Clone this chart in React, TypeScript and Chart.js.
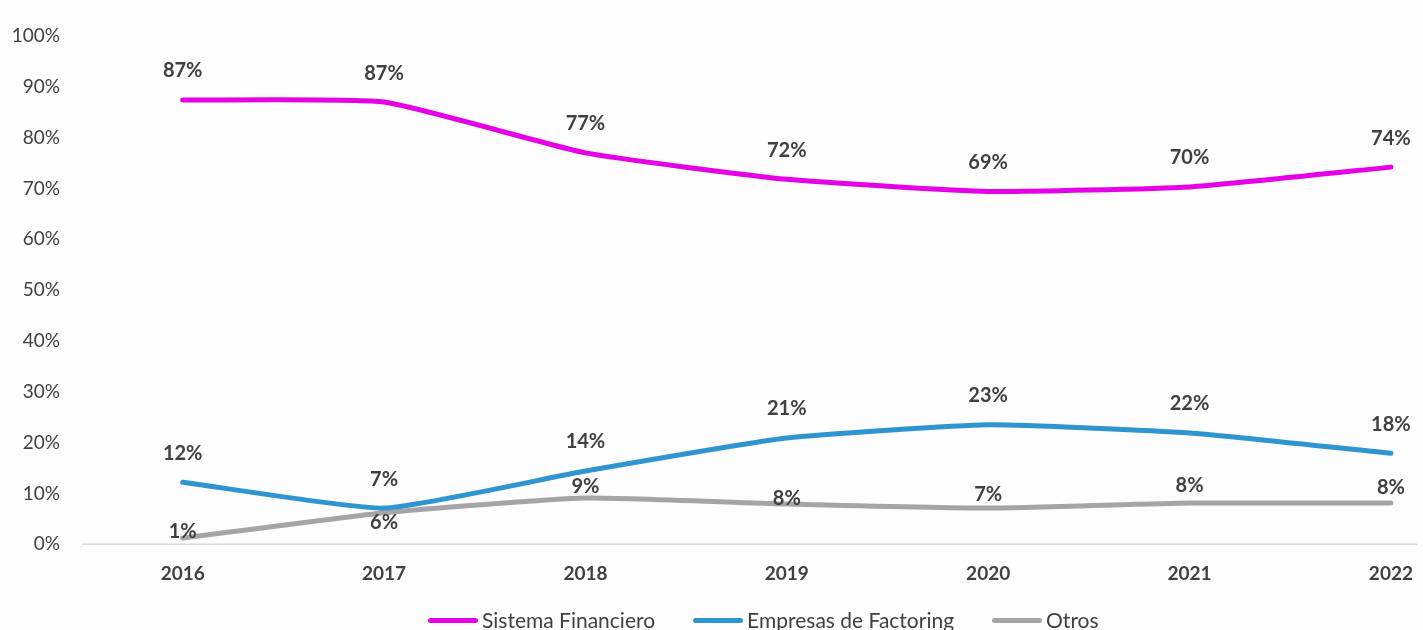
import React, { useEffect, useRef } from "react";
import { Chart, registerables } from "chart.js";

Chart.register(...registerables);

const years = [2016, 2017, 2018, 2019, 2020, 2021, 2022];
const seriesNames = ["Sistema Financiero", "Empresas de Factoring", "Otros"];
const sistemaFinanciero = [87.4, 87.0, 77.0, 71.8, 69.4, 70.3, 74.2];
const empresasFactoring = [12.2, 7.1, 14.4, 20.9, 23.5, 21.9, 17.9];
const otros = [1.2, 6.2, 9.1, 7.9, 7.1, 8.1, 8.1];
const sistemaLabels = ["87%", "87%", "77%", "72%", "69%", "70%", "74%"];
const factoringLabels = ["12%", "7%", "14%", "21%", "23%", "22%", "18%"];
const otrosLabels = ["1%", "6%", "9%", "8%", "7%", "8%", "8%"];
const yTicks = [0, 10, 20, 30, 40, 50, 60, 70, 80, 90, 100];

const seriesColors = ["#e600e6", "#2e95d1", "#a5a5a5"];
// label vertical offsets (px, style only)
const otrosLabelDy = [-7, 10, -11, -6, -14, -17, -15];

const FONT = "Lato, 'Open Sans', sans-serif";
const TEXT = "#404040";

const labelPlugin = {
  id: "valueLabels",
  afterDatasetsDraw(chart: any) {
    const ctx = chart.ctx;
    ctx.save();
    ctx.font = `bold 20px ${FONT}`;
    ctx.fillStyle = TEXT;
    ctx.textAlign = "center";
    ctx.textBaseline = "middle";
    chart.data.datasets.forEach((ds: any, di: number) => {
      const meta = chart.getDatasetMeta(di);
      meta.data.forEach((pt: any, i: number) => {
        const dy = ds.labelDy ? ds.labelDy[i] : -29;
        ctx.fillText(ds.valueLabels[i], pt.x, pt.y + dy);
      });
    });
    ctx.restore();
  },
};

const baselinePlugin = {
  id: "baseline",
  beforeDatasetsDraw(chart: any) {
    const { ctx, chartArea, scales } = chart;
    const y = scales.y.getPixelForValue(0);
    ctx.save();
    ctx.strokeStyle = "#d9d9d9";
    ctx.lineWidth = 1.5;
    ctx.beginPath();
    ctx.moveTo(chartArea.left, y);
    ctx.lineTo(chartArea.right, y);
    ctx.stroke();
    ctx.restore();
  },
};

export default function App() {
  const ref = useRef<HTMLCanvasElement>(null);
  useEffect(() => {
    if (!ref.current) return;
    const mk = (vals: number[]) => vals.map((v, i) => ({ x: years[i], y: v }));
    const chart = new Chart(ref.current, {
      type: "line",
      data: {
        datasets: [
          {
            label: seriesNames[0],
            data: mk(sistemaFinanciero),
            borderColor: seriesColors[0],
            backgroundColor: seriesColors[0],
            valueLabels: sistemaLabels,
          } as any,
          {
            label: seriesNames[1],
            data: mk(empresasFactoring),
            borderColor: seriesColors[1],
            backgroundColor: seriesColors[1],
            valueLabels: factoringLabels,
          } as any,
          {
            label: seriesNames[2],
            data: mk(otros),
            borderColor: seriesColors[2],
            backgroundColor: seriesColors[2],
            valueLabels: otrosLabels,
            labelDy: otrosLabelDy,
          } as any,
        ],
      },
      options: {
        animation: false,
        responsive: true,
        maintainAspectRatio: false,
        layout: { padding: { top: 36, right: 3, left: 0, bottom: 35 } },
        elements: {
          line: { borderWidth: 5, tension: 0.15, borderCapStyle: "round" },
          point: { radius: 0 },
        },
        plugins: {
          legend: { display: false },
          tooltip: { enabled: false },
        },
        scales: {
          x: {
            type: "linear",
            min: 2015.5,
            max: 2022.13,
            grid: { display: false },
            border: { display: false },
            afterBuildTicks: (axis: any) => {
              axis.ticks = years.map((y) => ({ value: y }));
            },
            ticks: {
              color: TEXT,
              padding: 10,
              font: { family: FONT, size: 19, weight: "bold" },
              callback: (v: any) => String(v),
            },
          },
          y: {
            min: 0,
            max: 100,
            grid: { display: false },
            border: { display: false },
            afterBuildTicks: (axis: any) => {
              axis.ticks = yTicks.map((v) => ({ value: v }));
            },
            afterFit: (axis: any) => {
              axis.width = 82;
            },
            ticks: {
              color: TEXT,
              padding: 14,
              font: { family: FONT, size: 19 },
              callback: (v: any) => v + "%",
            },
          },
        },
      },
      plugins: [labelPlugin, baselinePlugin],
    });
    return () => chart.destroy();
  }, []);
  return (
    <div style={{ position: "fixed", left: 0, top: 0, width: 1423, height: 630, background: "#fdfdfd", overflow: "hidden" }}>
      <canvas ref={ref} />
      <div
        style={{
          position: "absolute",
          left: 428,
          top: 608,
          display: "flex",
          alignItems: "center",
          gap: 38,
          fontFamily: FONT,
          fontSize: 21,
          lineHeight: "24px",
          color: TEXT,
          whiteSpace: "nowrap",
        }}
      >
        {seriesNames.map((name, i) => (
          <div key={name} style={{ display: "flex", alignItems: "center" }}>
            <span
              style={{
                display: "inline-block",
                width: 50,
                height: 5,
                borderRadius: 3,
                background: seriesColors[i],
                marginRight: 4,
              }}
            />
            <span>{name}</span>
          </div>
        ))}
      </div>
    </div>
  );
}
